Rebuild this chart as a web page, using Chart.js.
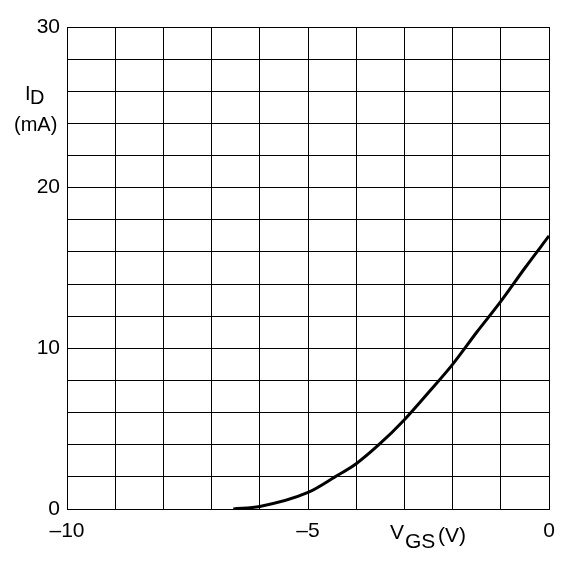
<!DOCTYPE html>
<html>
<head>
<meta charset="utf-8">
<script src="https://cdn.jsdelivr.net/npm/chart.js@4.4.1/dist/chart.umd.min.js"></script>
<style>
  html, body { margin: 0; padding: 0; background: #fff; }
  #wrap { width: 576px; height: 566px; }
</style>
</head>
<body>
<div id="wrap"><canvas id="myChart" width="576" height="566"></canvas></div>
<script>
// transfer curve
var vgs = [-6.55, -6, -5, -4.44, -4, -3.53, -3, -2.5, -2, -1.5, -1, -0.5, 0];
var id  = [0, 0.16, 1.03, 2, 2.82, 4, 5.56, 7.25, 9.0, 11.0, 12.92, 15.0, 17.0];

var xLabels = { '-10': '\u201310', '-5': '\u20135', '0': '0' };
var yLabels = [0, 10, 20, 30];

var FONT = '"Liberation Sans", Arial, sans-serif';

var points = vgs.map(function (v, i) { return { x: v, y: id[i] }; });

// axis names with subscripts
var axisText = {
  id: 'axisText',
  afterDraw: function (chart) {
    var c = chart.ctx;
    c.save();
    c.fillStyle = '#000';
    c.textBaseline = 'alphabetic';
    c.textAlign = 'left';
    c.font = '20px ' + FONT;
    c.fillText('I', 25, 100);
    c.fillText('D', 30, 104);
    c.fillText('(mA)', 14, 131);
    c.font = '21px ' + FONT;
    c.fillText('V', 390, 539);
    c.fillText('GS', 405, 548);
    c.fillText('(V)', 438, 542);
    c.restore();
  }
};

var ctx = document.getElementById('myChart');
var myChart = new Chart(ctx, {
  type: 'line',
  data: {
    datasets: [{
      data: points,
      borderColor: '#000',
      borderWidth: 3,
      pointRadius: 0,
      cubicInterpolationMode: 'monotone',
      fill: false
    }]
  },
  options: {
    responsive: false,
    animation: false,
    devicePixelRatio: 1,
    layout: { padding: { left: 0, top: 27, right: 27, bottom: 0 } },
    plugins: { legend: { display: false }, tooltip: { enabled: false } },
    scales: {
      x: {
        type: 'linear',
        min: -10,
        max: 0,
        grid: { color: '#000', lineWidth: 1, drawTicks: false },
        border: { color: '#000', width: 1 },
        ticks: {
          stepSize: 1,
          autoSkip: false,
          maxRotation: 0,
          padding: 10,
          color: '#000',
          font: { family: FONT, size: 21 },
          callback: function (v) { return xLabels[String(v)] || ''; }
        },
        afterFit: function (s) { s.height = 57; }
      },
      y: {
        min: 0,
        max: 30,
        grid: { color: '#000', lineWidth: 1, drawTicks: false },
        border: { color: '#000', width: 1 },
        ticks: {
          stepSize: 2,
          autoSkip: false,
          padding: 7,
          color: '#000',
          font: { family: FONT, size: 21 },
          callback: function (v) { return yLabels.indexOf(v) >= 0 ? String(v) : ''; }
        },
        afterFit: function (s) { s.width = 67; }
      }
    }
  },
  plugins: [axisText]
});
</script>
</body>
</html>
